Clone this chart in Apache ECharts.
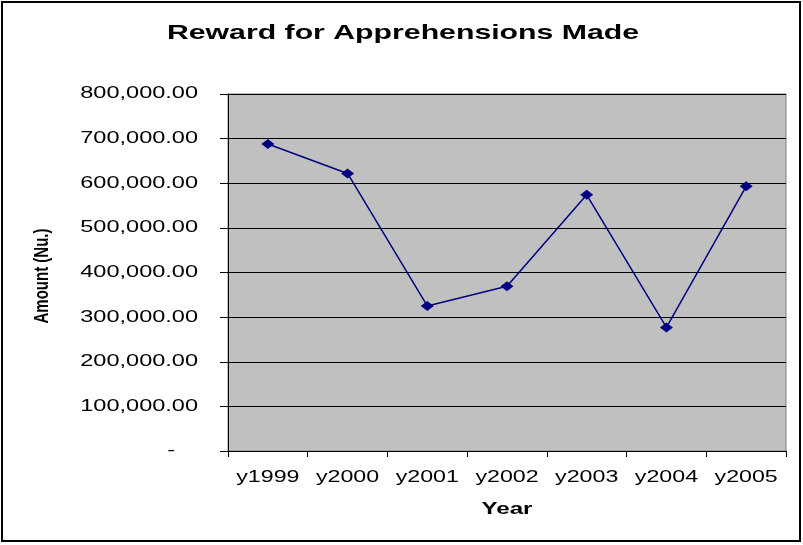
<!DOCTYPE html>
<html>
<head>
<meta charset="utf-8">
<script src="https://cdn.jsdelivr.net/npm/echarts@6/dist/echarts.min.js"></script>
<style>
  html, body { margin: 0; padding: 0; background: #fff; }
  #chart { width: 803px; height: 545px; }
</style>
</head>
<body>
<div id="chart"></div>
<script>
var years = ['y1999', 'y2000', 'y2001', 'y2002', 'y2003', 'y2004', 'y2005'];
var amounts = [688000, 622000, 325000, 369000, 574000, 277000, 593000];
var yTicks = [0, 100000, 200000, 300000, 400000, 500000, 600000, 700000, 800000];

var chart = echarts.init(document.getElementById('chart'));
var font = '"Liberation Sans", Arial, sans-serif';

var option = {
    backgroundColor: '#fff',
    animation: false,
    grid: {
        left: 228,
        right: 17,
        top: 94,
        bottom: 94,
        show: true,
        backgroundColor: '#c0c0c0',
        borderColor: '#808080',
        borderWidth: 1
    },
    xAxis: {
        type: 'category',
        data: years,
        boundaryGap: true,
        axisLine: { lineStyle: { color: '#000', width: 1 } },
        axisTick: { show: true, length: 6, lineStyle: { color: '#000' } },
        axisLabel: { show: false },
        splitLine: { show: false }
    },
    yAxis: {
        type: 'value',
        min: 0,
        max: 800000,
        interval: 100000,
        axisLine: { show: true, lineStyle: { color: '#000', width: 1 } },
        axisTick: { show: true, length: 8, lineStyle: { color: '#000' } },
        axisLabel: { show: false },
        splitLine: { show: true, lineStyle: { color: '#000', width: 1 } }
    },
    series: [{
        type: 'line',
        data: amounts,
        symbol: 'diamond',
        symbolSize: [13, 10],
        lineStyle: { color: '#000080', width: 1.5 },
        itemStyle: { color: '#000080' }
    }]
};
chart.setOption(option);

function fmt(v) {
    if (v === 0) return '-';
    return v.toLocaleString('en-US', { minimumFractionDigits: 2, maximumFractionDigits: 2 });
}

// texts are stretched sideways in the original, so draw them with a scale
var graphics = [{
    type: 'rect',
    shape: { x: 2, y: 2, width: 798, height: 539 },
    style: { fill: 'none', stroke: '#000', lineWidth: 2 }
}, {
    type: 'text',
    x: 403, y: 33,
    scaleX: 1.44,
    style: {
        text: 'Reward for Apprehensions Made',
        font: 'bold 21px ' + font,
        fill: '#000',
        align: 'center',
        verticalAlign: 'middle'
    }
}, {
    type: 'text',
    x: 42, y: 276,
    rotation: Math.PI / 2,
    scaleY: 1.4,
    style: {
        text: 'Amount (Nu.)',
        font: 'bold 15px ' + font,
        fill: '#000',
        align: 'center',
        verticalAlign: 'middle'
    }
}];

yTicks.forEach(function (v) {
    var y = chart.convertToPixel({ yAxisIndex: 0 }, v);
    graphics.push({
        type: 'text',
        x: v === 0 ? 175 : 198,
        y: y,
        scaleX: 1.47,
        style: {
            text: fmt(v),
            font: '16px ' + font,
            fill: '#000',
            align: 'right',
            verticalAlign: 'middle'
        }
    });
});

years.forEach(function (c) {
    var x = chart.convertToPixel({ xAxisIndex: 0 }, c);
    graphics.push({
        type: 'text',
        x: x,
        y: 478,
        scaleX: 1.45,
        style: {
            text: c,
            font: '16px ' + font,
            fill: '#000',
            align: 'center',
            verticalAlign: 'middle'
        }
    });
});

graphics.push({
    type: 'text',
    x: 507, y: 509,
    scaleX: 1.42,
    style: {
        text: 'Year',
        font: 'bold 17px ' + font,
        fill: '#000',
        align: 'center',
        verticalAlign: 'middle'
    }
});

chart.setOption({ graphic: graphics });
</script>
</body>
</html>
